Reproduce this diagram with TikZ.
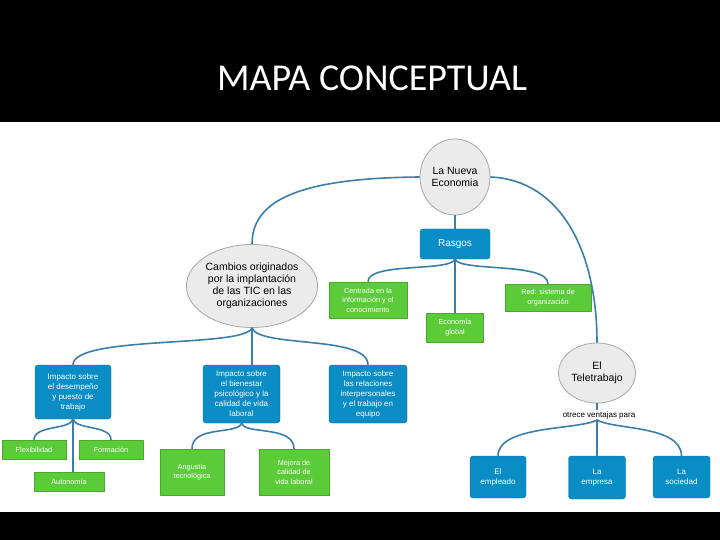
\documentclass[tikz,border=0pt]{standalone}
\usepackage{fontspec}
\setmainfont{Liberation Sans}
\newfontfamily\titlefont{Carlito}
\usetikzlibrary{shapes.geometric}
\definecolor{bl}{HTML}{0A8CC4}
\definecolor{bld}{HTML}{0A6E9E}
\definecolor{gr}{HTML}{5CCB3A}
\definecolor{grd}{HTML}{4AA82E}
\definecolor{ln}{HTML}{3A7FA8}
\definecolor{ov}{HTML}{EBEBEB}
\begin{document}
\begin{tikzpicture}[x=1pt,y=-1pt,
 ovn/.style={ellipse,draw=gray!70,fill=ov,line width=0.8pt,inner sep=0pt,align=center,font=\fontsize{10.5}{12}\selectfont},
 bx/.style={rectangle,rounded corners=3pt,draw=bld,fill=bl,text=white,align=center,inner sep=1pt,font=\fontsize{8}{10}\selectfont},
 gx/.style={rectangle,draw=grd,fill=gr,text=white,align=center,inner sep=1pt,font=\fontsize{7.3}{9.5}\selectfont},
 ed/.style={draw=ln,line width=1.6pt}]
\fill[black] (0,0) rectangle (720,540);
\fill[white] (0,122) rectangle (720,512);
\useasboundingbox (0,0) rectangle (720,540);
\node[text=white,font=\titlefont\fontsize{38}{42}\selectfont] (title) at (372,78) {MAPA CONCEPTUAL};
% nodes
\node[ovn,minimum width=70,minimum height=76] (nue) at (455,177) {La Nueva\\Economia};
\node[bx,minimum width=70,minimum height=30,font=\fontsize{10}{11}\selectfont] (ras) at (455,244) {Rasgos};
\node[gx,minimum width=78,minimum height=36] (cen) at (368,300) {Centrada en la\\información y el\\conocimiento};
\node[gx,minimum width=57,minimum height=29] (eco) at (455,327.5) {Economía\\global};
\node[gx,minimum width=86,minimum height=27] (red) at (548,297.5) {Red: sistema de\\organización};
\node[ovn,minimum width=118,minimum height=83] (cam) at (252,286) {Cambios originados\\por la implantación\\de las TIC en las\\organizaciones};
\node[bx,minimum width=76,minimum height=54] (i1) at (73,392) {Impacto sobre\\el desempeño\\y puesto de\\trabajo};
\node[bx,minimum width=77,minimum height=58] (i2) at (241.5,394) {Impacto sobre\\el bienestar\\psicológico y la\\calidad de vida\\laboral};
\node[bx,minimum width=78,minimum height=58] (i3) at (368,394) {Impacto sobre\\las relaciones\\interpersonales\\y el trabajo en\\equipo};
\node[gx,minimum width=64,minimum height=19] (fle) at (34,449.5) {Flexibilidad};
\node[gx,minimum width=64,minimum height=19] (for) at (111,449.5) {Formación};
\node[gx,minimum width=70,minimum height=19] (aut) at (69,481.5) {Autonomía};
\node[gx,minimum width=64,minimum height=46] (ang) at (192,472) {Angustia\\tecnológica};
\node[gx,minimum width=70,minimum height=46] (mej) at (294,472) {Mejora de\\calidad de\\vida laboral};
\node[ovn,minimum width=77,minimum height=60] (tel) at (597,373) {El\\Teletrabajo};
\node[font=\fontsize{8}{9}\selectfont,inner sep=1pt] (ofr) at (599,415) {otrece ventajas para};
\node[bx,minimum width=56,minimum height=42] (emp) at (498,477) {El\\empleado};
\node[bx,minimum width=57,minimum height=43] (ems) at (597,477.5) {La\\empresa};
\node[bx,minimum width=57,minimum height=42] (soc) at (681.5,477) {La\\sociedad};
% edges
\draw[ed] (nue.west) .. controls (300,178) and (252,200) .. (cam.north);
\draw[ed] (nue.east) .. controls (560,180) and (597,250) .. (tel.north);
\draw[ed] (nue.south) -- (ras.north);
\draw[ed] (ras.south) -- (eco.north);
\draw[ed] (ras.south) .. controls (450,272) and (368,262) .. (cen.north);
\draw[ed] (ras.south) .. controls (460,272) and (548,262) .. (red.north);
\draw[ed] (cam.south) -- (cam.south |- i2.north);
\draw[ed] (cam.south) .. controls (245,348) and (73,335) .. (i1.north);
\draw[ed] (cam.south) .. controls (259,348) and (368,335) .. (i3.north);
\draw[ed] (i1.south) -- (i1.south |- aut.north);
\draw[ed] (i1.south) .. controls (70,430) and (34,425) .. (fle.north);
\draw[ed] (i1.south) .. controls (76,430) and (111,425) .. (for.north);
\draw[ed] (i2.south) .. controls (238,435) and (192,425) .. (ang.north);
\draw[ed] (i2.south) .. controls (245,435) and (294,425) .. (mej.north);
\draw[ed] (tel.south) -- (tel.south |- ofr.north);
\draw[ed] (ofr.south -| ems.north) -- (ems.north);
\draw[ed] (ofr.south -| ems.north) .. controls (580,430) and (498,425) .. (emp.north);
\draw[ed] (ofr.south -| ems.north) .. controls (614,430) and (681,425) .. (soc.north);
\end{tikzpicture}
\end{document}
